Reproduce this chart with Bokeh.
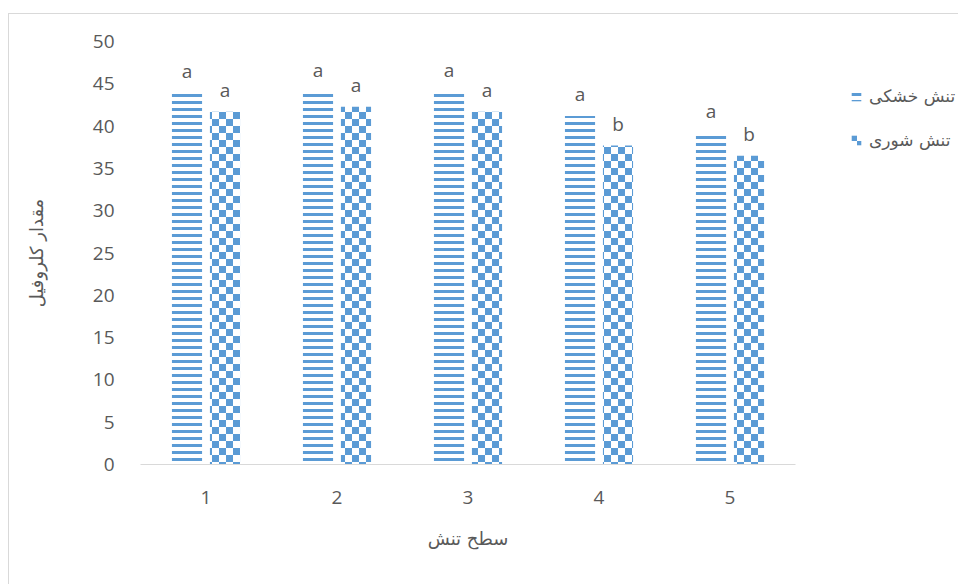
import base64

from bokeh.plotting import figure
from bokeh.models import (ColumnDataSource, FactorRange, Range1d, FixedTicker,
                          Legend, LegendItem, ImageURLTexture)
from bokeh.transform import dodge
from bokeh.core.properties import value
from bokeh.embed import file_html
from bokeh.resources import INLINE

# stress levels on the x axis
levels = ["1", "2", "3", "4", "5"]
# chlorophyll content per stress type
drought = [43.9, 44.0, 44.0, 41.2, 39.2]
salinity = [41.7, 42.3, 41.7, 37.7, 36.5]
# mean-comparison letters shown above the bars
drought_letters = ["a", "a", "a", "a", "a"]
salinity_letters = ["a", "a", "a", "b", "b"]
y_ticks = [0, 5, 10, 15, 20, 25, 30, 35, 40, 45, 50]

series_names = ["تنش خشکی", "تنش شوری"]
x_title = "سطح تنش"
y_title = "مقدار کلروفیل"

BLUE = "#5B9BD5"
GREY = "#595959"
NUM_FONT = "Open Sans"
AR_FONT = "DejaVu Sans"

src = ColumnDataSource(dict(
    level=levels,
    drought=drought,
    salinity=salinity,
    d_txt=drought_letters,
    s_txt=salinity_letters,
    checker=["checker"] * len(levels),
))

p = figure(
    x_range=FactorRange(*levels, range_padding=0),
    y_range=Range1d(0, 50),
    frame_width=655, frame_height=423,
    output_backend="svg", toolbar_location=None,
    min_border_left=131, min_border_top=27,
    min_border_right=163, min_border_bottom=120,
    margin=(14, 0, 0, 9),
)
p.styles = {"outline": "1px solid #d9d9d9"}
p.outline_line_color = None
p.xgrid.visible = False
p.ygrid.visible = False
p.background_fill_color = "white"
p.border_fill_color = "white"

# checkerboard tile for the salinity bars
tile_svg = (
    '<svg xmlns="http://www.w3.org/2000/svg" width="14" height="14">'
    f'<rect x="0" y="0" width="7" height="7" fill="{BLUE}"/>'
    f'<rect x="7" y="7" width="7" height="7" fill="{BLUE}"/>'
    '</svg>'
)
checker_tex = ImageURLTexture(
    url="data:image/svg+xml;base64," + base64.b64encode(tile_svg.encode()).decode())

off = 0.145
bw = 0.23
r1 = p.vbar(x=dodge("level", -off, range=p.x_range), top="drought", width=bw,
            source=src, fill_color="white", line_color=None,
            hatch_pattern="horizontal_line", hatch_color=BLUE,
            hatch_scale=7, hatch_weight=3)
r2 = p.vbar(x=dodge("level", off, range=p.x_range), top="salinity", width=bw,
            source=src, fill_color="white", line_color=None,
            hatch_pattern="checker", hatch_extra={"checker": checker_tex},
            hatch_color=BLUE, hatch_scale=14, hatch_weight=1)

for col, top, dx in (("d_txt", "drought", -off), ("s_txt", "salinity", off)):
    p.text(x=dodge("level", dx, range=p.x_range), y=top, text=col, source=src,
           text_align="center", text_baseline="alphabetic", y_offset=-22,
           text_font=value(NUM_FONT), text_font_size="19px", text_color=GREY)

# y axis
ya = p.yaxis[0]
ya.ticker = FixedTicker(ticks=y_ticks)
ya.axis_line_color = None
ya.major_tick_line_color = None
ya.minor_tick_line_color = None
ya.major_label_standoff = 20
ya.major_label_text_font = NUM_FONT
ya.major_label_text_font_size = "19px"
ya.major_label_text_color = GREY
ya.axis_label = y_title
ya.axis_label_standoff = 43
ya.axis_label_text_font = AR_FONT
ya.axis_label_text_font_style = "normal"
ya.axis_label_text_font_size = "18px"
ya.axis_label_text_color = GREY

# x axis
xa = p.xaxis[0]
xa.axis_line_color = "#d9d9d9"
xa.axis_line_width = 1
xa.major_tick_line_color = None
xa.minor_tick_line_color = None
xa.major_label_standoff = 20
xa.major_label_text_font = NUM_FONT
xa.major_label_text_font_size = "19px"
xa.major_label_text_color = GREY
xa.axis_label = x_title
xa.axis_label_standoff = 21
xa.axis_label_text_font = AR_FONT
xa.axis_label_text_font_style = "normal"
xa.axis_label_text_font_size = "18px"
xa.axis_label_text_color = GREY

legend = Legend(
    items=[LegendItem(label=series_names[0], renderers=[r1]),
           LegendItem(label=series_names[1], renderers=[r2])],
    location=(55, 314),
    padding=0, margin=0, spacing=24,
    glyph_width=12, glyph_height=12, label_height=20, label_standoff=7,
    label_text_font=AR_FONT, label_text_font_size="17px",
    label_text_color=GREY,
    border_line_color=None, background_fill_alpha=0,
)
p.add_layout(legend, "right")

open("out.html", "w").write(file_html(p, INLINE))
